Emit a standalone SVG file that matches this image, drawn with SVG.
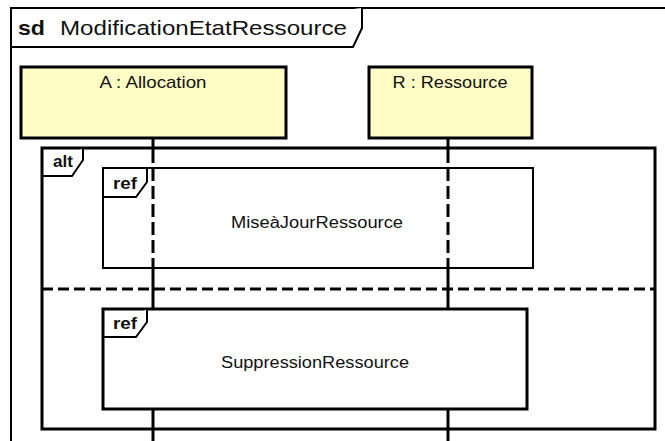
<svg xmlns="http://www.w3.org/2000/svg" width="665" height="441" viewBox="0 0 665 441">
<style>
.t{font-family:"Liberation Sans",Arial,sans-serif;fill:#111}
.b{font-weight:bold}
.ln{fill:none;stroke:#000}
.life{fill:#FFFCC6;stroke:#000;stroke-width:3}
</style>
<rect x="0" y="0" width="665" height="441" fill="#fff"/>
<g id="frame">
<path class="ln" stroke-width="2" d="M11,441 L11,8 L665,8"/>
<path d="M11,47 L353,47 L362,28 L362,8" fill="#fff" stroke="#000" stroke-width="2"/>
<text class="t b" x="18" y="35" font-size="21" textLength="27" lengthAdjust="spacingAndGlyphs">sd</text>
<text class="t" x="60" y="35" font-size="21" textLength="287" lengthAdjust="spacingAndGlyphs">ModificationEtatRessource</text>
</g>
<g id="connectors">
<line class="ln" stroke-width="3" x1="153" y1="139" x2="153" y2="150"/>
<line class="ln" stroke-width="3" x1="153" y1="150" x2="153" y2="268" stroke-dasharray="13,5"/>
<line class="ln" stroke-width="3" x1="153" y1="268" x2="153" y2="441"/>
<line class="ln" stroke-width="3" x1="448" y1="139" x2="448" y2="150"/>
<line class="ln" stroke-width="3" x1="448" y1="150" x2="448" y2="268" stroke-dasharray="13,5"/>
<line class="ln" stroke-width="3" x1="448" y1="268" x2="448" y2="441"/>
</g>
<g id="A">
<rect class="life" x="21" y="67" width="265" height="71"/>
<text class="t" x="153" y="88" font-size="17" text-anchor="middle" textLength="107" lengthAdjust="spacingAndGlyphs">A : Allocation</text>
</g>
<g id="R">
<rect class="life" x="369" y="67" width="163" height="71"/>
<text class="t" x="450" y="88" font-size="17" text-anchor="middle" textLength="115" lengthAdjust="spacingAndGlyphs">R : Ressource</text>
</g>
<g id="alt">
<rect class="ln" stroke-width="3" x="42" y="148" width="613" height="281"/>
<path d="M42,176 L72,176 L83,160 L83,148" fill="#fff" stroke="#000" stroke-width="2"/>
<text class="t b" x="53" y="167" font-size="17" textLength="20" lengthAdjust="spacingAndGlyphs">alt</text>
<line class="ln" stroke-width="3" x1="42" y1="289" x2="655" y2="289" stroke-dasharray="11,5"/>
</g>
<g id="ref1">
<rect class="ln" stroke-width="2" x="103" y="168" width="430" height="100"/>
<path d="M103,197 L136,197 L147,182 L147,168" fill="#fff" stroke="#000" stroke-width="2"/>
<text class="t b" x="113" y="189" font-size="17" textLength="24" lengthAdjust="spacingAndGlyphs">ref</text>
<text class="t" x="317" y="228" font-size="16" text-anchor="middle" textLength="172" lengthAdjust="spacingAndGlyphs">MiseàJourRessource</text>
</g>
<g id="ref2">
<rect fill="#fff" stroke="#000" stroke-width="3" x="103" y="309" width="424" height="100"/>
<path d="M103,337 L136,337 L147,322 L147,309" fill="#fff" stroke="#000" stroke-width="2"/>
<text class="t b" x="113" y="329" font-size="17" textLength="24" lengthAdjust="spacingAndGlyphs">ref</text>
<text class="t" x="315" y="368" font-size="16" text-anchor="middle" textLength="188" lengthAdjust="spacingAndGlyphs">SuppressionRessource</text>
</g>
</svg>
